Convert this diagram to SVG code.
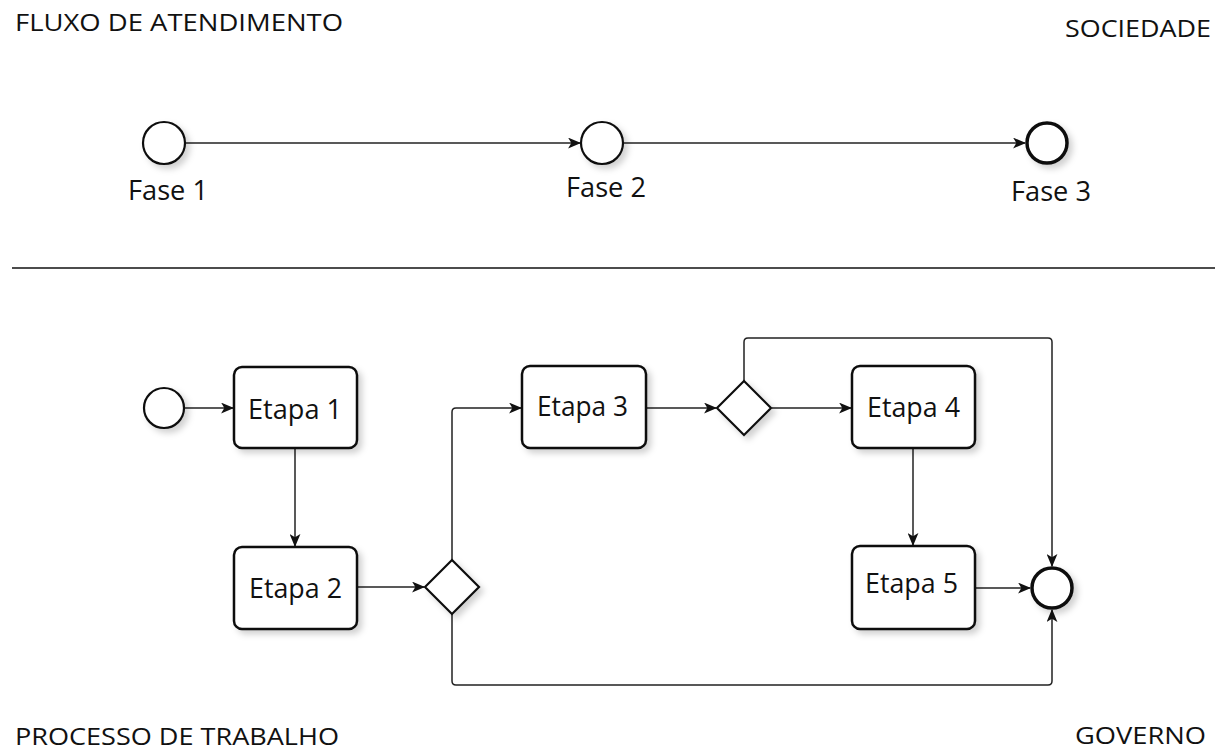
<svg xmlns="http://www.w3.org/2000/svg" width="1223" height="752" viewBox="0 0 1223 752">
<style>
.t{font-family:"Open Sans","Liberation Sans",sans-serif;fill:#111}
.hdr{font-size:24px}
.lbl{font-size:27px;text-anchor:middle}
.box{fill:#fff;stroke:#111;stroke-width:2.5}
.ev{fill:#fff;stroke:#111;stroke-width:2.2}
.end{fill:#fff;stroke:#111;stroke-width:3.5}
.gw{fill:#fff;stroke:#111;stroke-width:2.2}
.c{fill:none;stroke:#222;stroke-width:1.5;stroke-linejoin:round}
</style>
<defs>
<marker id="ar" viewBox="0 0 12 10" refX="11" refY="5" markerWidth="13" markerHeight="11" markerUnits="userSpaceOnUse" orient="auto">
<path d="M0,0 L12,5 L0,10 L3,5 Z" fill="#111"/>
</marker>
<filter id="sh" x="-20%" y="-20%" width="150%" height="150%">
<feDropShadow dx="4" dy="4" stdDeviation="3" flood-color="#000" flood-opacity="0.18"/>
</filter>
</defs>
<rect width="1223" height="752" fill="#fff"/>

<text class="t hdr" x="15" y="31" textLength="328" lengthAdjust="spacingAndGlyphs">FLUXO DE ATENDIMENTO</text>
<text class="t hdr" x="1065" y="37" textLength="146" lengthAdjust="spacingAndGlyphs">SOCIEDADE</text>
<text class="t hdr" x="15" y="745" textLength="324" lengthAdjust="spacingAndGlyphs">PROCESSO DE TRABALHO</text>
<text class="t hdr" x="1075" y="744" textLength="131" lengthAdjust="spacingAndGlyphs">GOVERNO</text>
<line x1="12" y1="268" x2="1215" y2="268" stroke="#111" stroke-width="1.5"/>

<g id="connectors">
<line class="c" x1="185" y1="143" x2="580" y2="143" marker-end="url(#ar)"/>
<line class="c" x1="623" y1="143" x2="1025" y2="143" marker-end="url(#ar)"/>
<line class="c" x1="185" y1="408" x2="233" y2="408" marker-end="url(#ar)"/>
<line class="c" x1="295" y1="449" x2="295" y2="546" marker-end="url(#ar)"/>
<line class="c" x1="358" y1="587" x2="424" y2="587" marker-end="url(#ar)"/>
<path class="c" d="M452,560 V412 Q452,408 456,408 H521" marker-end="url(#ar)"/>
<line class="c" x1="647" y1="408" x2="716" y2="408" marker-end="url(#ar)"/>
<path class="c" d="M744,381 V342 Q744,338 748,338 H1048 Q1052,338 1052,342 V566" marker-end="url(#ar)"/>
<line class="c" x1="772" y1="408" x2="851" y2="408" marker-end="url(#ar)"/>
<line class="c" x1="913" y1="449" x2="913" y2="545" marker-end="url(#ar)"/>
<line class="c" x1="976" y1="588" x2="1030" y2="588" marker-end="url(#ar)"/>
<path class="c" d="M452,614 V681 Q452,685 456,685 H1048 Q1052,685 1052,681 V610" marker-end="url(#ar)"/>
</g>

<g id="fase1"><circle class="ev" cx="164" cy="143" r="21" filter="url(#sh)"/><text class="t lbl" x="168" y="200" textLength="80" lengthAdjust="spacingAndGlyphs">Fase 1</text></g>
<g id="fase2"><circle class="ev" cx="602" cy="143" r="21" filter="url(#sh)"/><text class="t lbl" x="606" y="197" textLength="80" lengthAdjust="spacingAndGlyphs">Fase 2</text></g>
<g id="fase3"><circle class="end" cx="1047" cy="143" r="20" filter="url(#sh)"/><text class="t lbl" x="1051" y="201" textLength="80" lengthAdjust="spacingAndGlyphs">Fase 3</text></g>

<g id="start"><circle class="ev" cx="164" cy="408" r="20" filter="url(#sh)"/></g>
<g id="etapa1"><rect class="box" x="234" y="367" width="123" height="81" rx="8" filter="url(#sh)"/><text class="t lbl" x="295" y="419" textLength="94" lengthAdjust="spacingAndGlyphs">Etapa 1</text></g>
<g id="etapa2"><rect class="box" x="234" y="547" width="123" height="82" rx="8" filter="url(#sh)"/><text class="t lbl" x="295.5" y="598" textLength="93" lengthAdjust="spacingAndGlyphs">Etapa 2</text></g>
<g id="gw1"><path class="gw" d="M452,560 L479,587 L452,614 L425,587 Z" filter="url(#sh)"/></g>
<g id="etapa3"><rect class="box" x="522" y="366" width="124" height="82" rx="8" filter="url(#sh)"/><text class="t lbl" x="582.5" y="416" textLength="91" lengthAdjust="spacingAndGlyphs">Etapa 3</text></g>
<g id="gw2"><path class="gw" d="M744,381 L771,408 L744,435 L717,408 Z" filter="url(#sh)"/></g>
<g id="etapa4"><rect class="box" x="852" y="366" width="123" height="82" rx="8" filter="url(#sh)"/><text class="t lbl" x="913.5" y="417" textLength="93" lengthAdjust="spacingAndGlyphs">Etapa 4</text></g>
<g id="etapa5"><rect class="box" x="852" y="546" width="123" height="83" rx="8" filter="url(#sh)"/><text class="t lbl" x="911.5" y="593" textLength="93" lengthAdjust="spacingAndGlyphs">Etapa 5</text></g>
<g id="end"><circle class="end" cx="1052" cy="588" r="20" filter="url(#sh)"/></g>
</svg>
